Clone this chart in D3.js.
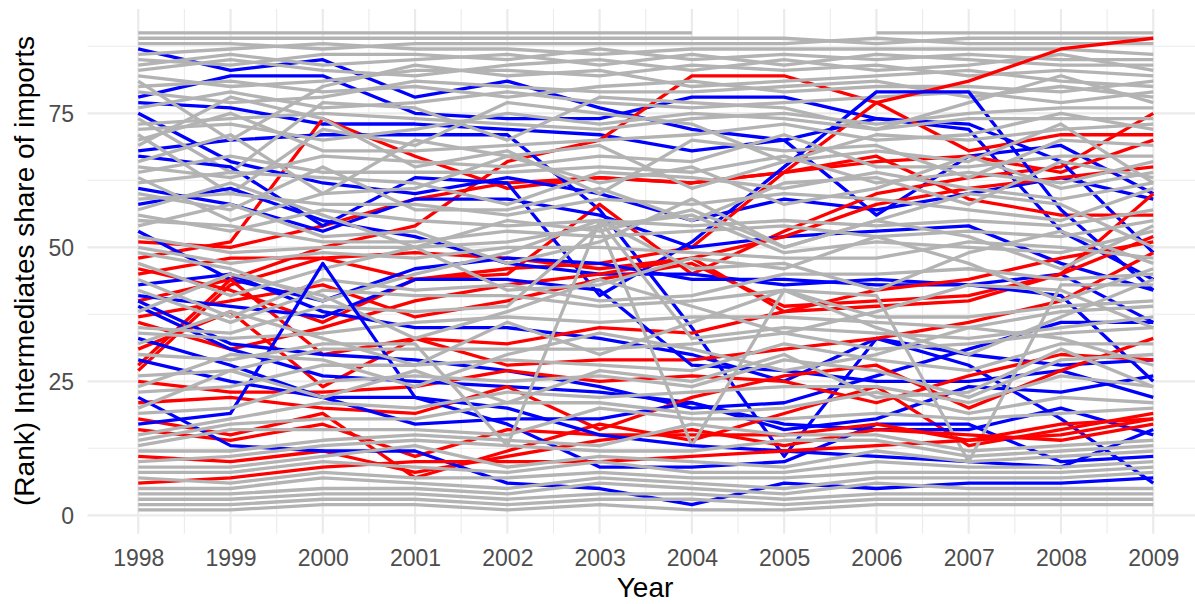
<!DOCTYPE html>
<html><head><meta charset="utf-8">
<script src="https://cdn.jsdelivr.net/npm/d3@7"></script>
<style>body{margin:0;background:#fff;} svg{display:block;font-family:"Liberation Sans",Arial,sans-serif;}</style>
</head><body><svg id="c" width="1195" height="604"></svg>
<script>
const years = [1998,1999,2000,2001,2002,2003,2004,2005,2006,2007,2008,2009];
const yTicks = [0,25,50,75];
const xTitle = "Year";
const yTitle = "(Rank) Intermediates share of imports";

const blueLines = [
 [87,83,85,78,81,76,72,70,56,67,69,60],
 [78,82,82,75,74,74,78,78,74,72,53,44],
 [77,76,73,73,72,71,68,70,74,73,66,49],
 [68,70,71,71,71,57,35,11,33,28,18,6],
 [75,66,62,60,63,60,55,59,57,60,63,59],
 [67,65,54,63,62,41,51,65,79,79,57,42],
 [61,58,53,59,59,56,50,52,53,54,47,42],
 [58,61,55,52,47,45,45,43,44,43,45,36],
 [53,44,40,46,48,47,44,44,43,43,41,25],
 [43,45,38,35,35,33,30,25,33,30,28,29],
 [41,39,37,44,44,42,28,27,25,25,27,22],
 [40,32,30,29,27,24,20,21,26,31,36,36],
 [39,31,26,25,24,23,21,16,18,24,23,26],
 [33,28,22,17,18,18,21,17,16,16,20,15],
 [29,25,22,22,17,9,9,10,17,17,10,11],
 [22,13,12,12,6,5,2,6,5,6,6,7],
 [17,19,47,22,20,15,13,12,11,10,9,16]
];
const redLines = [
 [51,50,54,59,62,63,62,64,66,67,64,70],
 [48,51,74,67,61,63,62,64,67,59,56,56],
 [40,44,50,54,66,70,82,82,77,68,71,71],
 [27,43,48,44,46,47,50,64,77,81,87,89],
 [46,42,36,44,45,58,45,53,60,63,65,75],
 [45,48,48,49,48,46,48,52,58,61,63,65],
 [37,40,43,37,40,44,47,39,40,41,45,60],
 [36,31,35,40,43,45,48,38,39,40,45,52],
 [31,38,24,33,32,35,34,38,42,44,48,51],
 [28,44,30,33,28,29,29,31,33,36,40,49],
 [25,23,23,24,27,25,26,25,21,26,30,29],
 [21,22,20,19,24,16,22,26,28,20,27,33],
 [18,15,19,7,12,17,14,19,24,13,16,19],
 [16,14,17,11,16,15,15,15,17,14,17,18],
 [11,10,12,8,11,14,16,13,16,15,14,17],
 [6,7,9,10,10,10,11,12,13,14,15,18]
];
const greyLines = [
 [90,90,90,90,90,90,90,null,90,90,90,90],
 [89,89,89,89,89,89,89,89,88,89,89,89],
 [88,88,87,88,88,88,88,88,89,88,88,88],
 [86,87,88,87,87,86,87,87,87,87,87,86],
 [85,84,86,86,85,87,85,86,85,86,85,85],
 [84,86,84,85,86,84,86,84,86,85,84,84],
 [83,85,83,82,84,85,83,85,83,84,86,83],
 [82,80,81,83,83,82,84,83,84,82,83,82],
 [81,70,80,84,82,83,80,81,82,83,81,80],
 [80,81,79,80,78,80,81,79,80,80,79,81],
 [79,77,78,81,80,79,79,80,81,78,80,78],
 [76,79,76,77,79,77,76,77,78,79,77,79],
 [74,64,77,76,70,78,77,76,72,77,82,77],
 [73,74,75,74,73,72,74,75,73,75,76,76],
 [72,73,70,72,75,73,75,74,72,74,74,74],
 [71,60,72,69,77,75,73,66,71,70,72,73],
 [70,75,68,68,69,70,71,73,70,71,75,72],
 [69,78,74,65,68,60,70,68,69,63,70,69],
 [66,71,60,70,67,69,61,66,68,66,73,62],
 [65,63,67,66,65,67,66,71,65,65,67,67],
 [64,67,64,64,64,65,64,67,62,64,62,66],
 [63,55,60,61,67,62,65,58,61,67,61,64],
 [62,64,63,62,58,64,63,61,64,61,59,62],
 [60,57,65,57,57,61,55,62,63,58,66,63],
 [59,60,58,58,56,59,58,60,59,57,55,61],
 [57,62,56,50,55,53,57,50,55,60,58,50],
 [56,53,57,55,54,55,54,55,54,55,54,57],
 [55,54,51,51,53,52,53,54,52,53,52,55],
 [54,58,52,53,47,51,59,50,55,52,46,54],
 [52,49,50,50,51,54,56,49,51,50,49,53],
 [50,47,49,48,50,50,49,48,48,51,50,48],
 [49,46,40,45,49,55,46,47,42,49,53,47],
 [47,41,46,50,42,43,48,46,52,47,40,46],
 [44,37,44,42,43,40,41,45,45,46,44,45],
 [42,36,42,41,41,39,40,42,41,10,43,43],
 [38,45,41,33,38,44,39,34,38,43,42,35],
 [35,34,39,38,39,54,13,42,37,37,39,40],
 [34,33,34,36,37,36,37,37,36,35,38,39],
 [32,38,33,28,36,30,36,42,35,30,37,44],
 [30,29,32,32,13,55,33,35,34,33,35,37],
 [26,27,31,31,31,31,32,34,31,32,34,35],
 [24,30,29,24,30,34,31,27,30,35,33,28],
 [23,24,28,28,29,28,27,32,29,27,32,32],
 [20,27,22,27,21,27,25,30,22,23,31,24],
 [19,20,25,26,25,26,24,29,27,22,29,30],
 [15,18,21,20,23,22,23,24,24,21,26,24],
 [14,17,18,18,21,21,19,20,23,19,22,21],
 [13,16,16,16,15,20,18,18,19,18,19,20],
 [12,12,14,15,14,13,17,15,15,12,13,14],
 [10,11,13,14,13,12,12,14,14,11,12,13],
 [9,9,11,13,9,11,10,9,12,10,11,12],
 [8,8,10,9,8,10,8,8,10,9,9,10],
 [7,6,8,7,7,8,7,7,8,8,8,9],
 [5,5,7,6,5,7,6,5,7,7,7,8],
 [4,4,5,5,4,6,5,4,6,5,5,5],
 [3,3,4,4,3,4,4,3,4,4,4,4],
 [2,2,3,3,2,3,3,2,3,3,3,3],
 [1,1,2,2,1,2,1,1,2,2,2,2]
];

const svg = d3.select("#c");
const x = d3.scaleLinear().domain([1998 - 0.55, 2009 + 0.55]).range([87.5, 1204]);
const y = d3.scaleLinear().domain([-3.45, 94.45]).range([533.8, 9.05]);

const g = svg.append("g");
svg.append("defs").append("clipPath").attr("id","cp").append("rect")
  .attr("x", 87.5).attr("y", 9.05).attr("width", 1204-87.5).attr("height", 533.8-9.05);

const minorY = d3.range(12.5, 94, 25);
const minorX = d3.range(1998.5, 2009.5, 1);
g.selectAll(".mgy").data(minorY).enter().append("line")
  .attr("x1", 87.5).attr("x2", 1204).attr("y1", d=>y(d)).attr("y2", d=>y(d))
  .attr("stroke", "#EBEBEB").attr("stroke-width", 1.1);
g.selectAll(".mgx").data(minorX).enter().append("line")
  .attr("y1", 9.05).attr("y2", 533.8).attr("x1", d=>x(d)).attr("x2", d=>x(d))
  .attr("stroke", "#EBEBEB").attr("stroke-width", 1.1);
g.selectAll(".gy").data(yTicks).enter().append("line")
  .attr("x1", 87.5).attr("x2", 1204).attr("y1", d=>y(d)).attr("y2", d=>y(d))
  .attr("stroke", "#EBEBEB").attr("stroke-width", 2.2);
g.selectAll(".gx").data(years).enter().append("line")
  .attr("y1", 9.05).attr("y2", 533.8).attr("x1", d=>x(d)).attr("x2", d=>x(d))
  .attr("stroke", "#EBEBEB").attr("stroke-width", 2.2);

const series = [];
let gi = 0, ri = 0, bi = 0;
for (let k = 0; gi < greyLines.length || ri < redLines.length || bi < blueLines.length; k++) {
  if (gi < greyLines.length) series.push({v: greyLines[gi++], c: "#B3B3B3"});
  if (k % 2 === 0 && bi < blueLines.length) series.push({v: blueLines[bi++], c: "#0000FF"});
  if (gi < greyLines.length) series.push({v: greyLines[gi++], c: "#B3B3B3"});
  if (k % 2 === 1 && ri < redLines.length) series.push({v: redLines[ri++], c: "#FF0000"});
  if (k % 3 === 2 && ri < redLines.length) series.push({v: redLines[ri++], c: "#FF0000"});
  if (k % 3 === 0 && bi < blueLines.length) series.push({v: blueLines[bi++], c: "#0000FF"});
}

const line = d3.line()
  .defined(d => d.v != null)
  .x(d => x(d.yr)).y(d => y(d.v));

g.append("g").attr("clip-path","url(#cp)").selectAll("path").data(series).enter().append("path")
  .attr("d", s => line(s.v.map((v,i)=>({yr: years[i], v}))))
  .attr("fill","none").attr("stroke", s=>s.c).attr("stroke-width", 3.3)
  .attr("stroke-linejoin","round").attr("stroke-linecap","butt");

const xAxis = d3.axisBottom(x).tickValues(years).tickFormat(d3.format("d")).tickSize(0).tickPadding(0);
const xa = svg.append("g").attr("transform", "translate(0,548)").call(xAxis);
xa.select(".domain").remove();
xa.selectAll("text").attr("font-size", 23).attr("fill", "#4D4D4D")
  .attr("font-family","Liberation Sans, Arial, sans-serif").attr("dy", "0.77em");

const yAxis = d3.axisLeft(y).tickValues(yTicks).tickSize(0).tickPadding(0);
const ya = svg.append("g").attr("transform", "translate(74,0)").call(yAxis);
ya.select(".domain").remove();
ya.selectAll("text").attr("font-size", 23).attr("fill", "#4D4D4D")
  .attr("font-family","Liberation Sans, Arial, sans-serif").attr("dy", "0.36em");

svg.append("text").attr("x", 645).attr("y", 597).attr("text-anchor","middle")
  .attr("font-size", 28).attr("fill","#000").text(xTitle);
svg.append("text").attr("transform","translate(33.5,271) rotate(-90)").attr("text-anchor","middle")
  .attr("font-size", 28).attr("fill","#000").text(yTitle);
</script></body></html>
